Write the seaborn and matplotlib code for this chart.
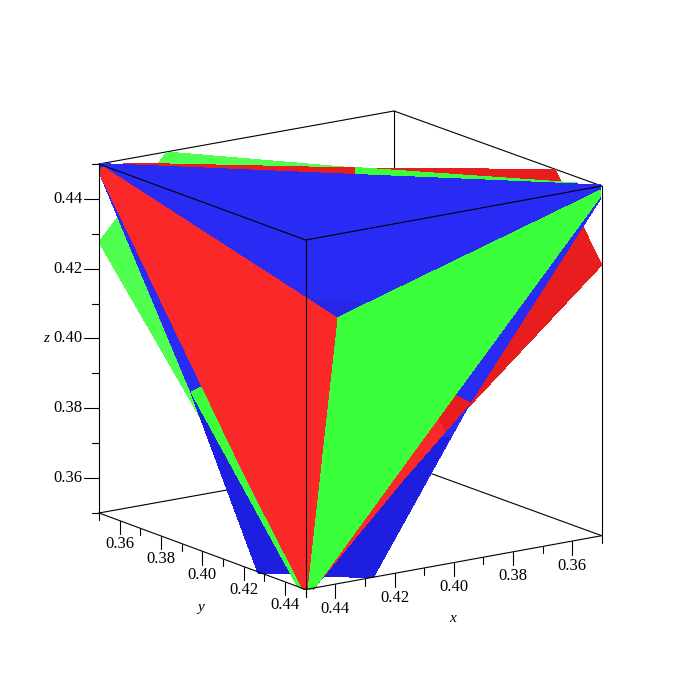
import numpy as np
import matplotlib
matplotlib.use("Agg")
import matplotlib.pyplot as plt
import seaborn as sns

# axis ranges and tick values
axis_range = [0.35, 0.45]
major_ticks = [0.36, 0.38, 0.40, 0.42, 0.44]
minor_ticks = [0.35, 0.37, 0.39, 0.41, 0.43, 0.45]

# box corners (pixels)
top_left = (99, 164)
top_back = (394, 111)
top_right = (601.7, 186)
top_front = (305.7, 240)
bot_left = (99, 513)
bot_back = (394, 460)
bot_right = (601.7, 535.7)
bot_front = (305.7, 589.5)

# faces, back to front (pixels)
green_back = [(99, 242), (167, 152), (355, 168), (577, 183), (313, 590), (298, 587)]
red_back = [(123, 163), (355, 168), (555, 169.5), (601.7, 265), (445, 432), (300, 300)]
green_sliver = [(355, 167.5), (577, 183), (577, 186), (355, 176)]
blue_main = [(99, 163.5), (601, 185), (601, 198), (470, 403), (373, 578), (325, 576),
             (305, 590), (292, 574), (258, 573), (190, 390), (99, 172)]
blue_low_left = [(190, 390), (258, 573), (292, 574), (305, 590), (215, 400)]
blue_low_right = [(450, 437), (373, 578), (325, 576), (305, 590), (420, 440)]
blue_shade = [(303, 298), (360, 303), (360, 307), (337, 318)]
green_strip = [(191, 392), (202, 387), (305, 590), (298, 587)]
red_dark = [(455, 395), (470, 403), (445, 432), (438, 418)]
red_strip = [(438, 418), (445, 432), (403, 480), (323, 577), (313, 590), (393, 480)]
green_front = [(337, 318), (601, 190), (600, 197), (455, 395), (393, 480), (316, 586), (307, 590)]
red_front = [(103, 167), (337, 318), (307, 590), (303, 589), (247, 480), (99, 172)]

faces = [
    (green_back, "#50ff50"),
    (red_back, "#e81e1e"),
    (green_sliver, "#3cff3c"),
    (blue_main, "#2a2af5"),
    (blue_low_left, "#1e1ee0"),
    (blue_low_right, "#1e1ee0"),
    (blue_shade, "#2626e6"),
    (green_strip, "#3cff3c"),
    (red_dark, "#e81e1e"),
    (red_strip, "#fa2828"),
    (green_front, "#3aff3a"),
    (red_front, "#fa2828"),
]


def edge(ax, a, b, lw=0.8, color="black", zorder=3):
    sns.lineplot(x=[a[0], b[0]], y=[a[1], b[1]], sort=False, estimator=None,
                 color=color, linewidth=lw, zorder=zorder, ax=ax)


def along(a, b, v):
    # position of value v on the box edge a-b, a being the low end of the range
    t = (v - axis_range[0]) / (axis_range[1] - axis_range[0])
    return (a[0] + t * (b[0] - a[0]), a[1] + t * (b[1] - a[1]))


sns.set_theme(style="white")
plt.rcParams["font.family"] = ["Liberation Serif", "DejaVu Serif"]

fig = plt.figure(figsize=(7, 7), dpi=100)
ax = fig.add_axes([0, 0, 1, 1])
ax.set_xlim(0, 700)
ax.set_ylim(700, 0)
ax.axis("off")

# edges hidden behind the surfaces
for a, b in [(top_left, top_back), (top_back, top_right), (top_back, bot_back),
             (bot_left, bot_back), (bot_back, bot_right)]:
    edge(ax, a, b, zorder=0.5)

for verts, col in faces:
    xs, ys = zip(*verts)
    ax.fill(xs, ys, color=col, linewidth=0, antialiased=False, zorder=1)

# edges in front
for a, b in [(top_left, top_front), (top_front, top_right), (top_front, bot_front),
             (top_left, bot_left), (top_right, bot_right), (bot_left, bot_front),
             (bot_front, bot_right)]:
    edge(ax, a, b)

# z axis
for v in major_ticks:
    p = along(bot_left, top_left, v)
    edge(ax, (84, p[1]), p)
    ax.text(83, p[1], f"{v:.2f}", ha="right", va="center", fontsize=12, color="black")
for v in minor_ticks:
    p = along(bot_left, top_left, v)
    edge(ax, (92, p[1]), p)

# y axis
for v in major_ticks:
    p = along(bot_left, bot_front, v)
    edge(ax, p, (p[0], p[1] + 13.5))
    ax.text(p[0], p[1] + 23.5, f"{v:.2f}", ha="center", va="center", fontsize=12, color="black")
for v in minor_ticks:
    p = along(bot_left, bot_front, v)
    edge(ax, p, (p[0], p[1] + 7))

# x axis
for v in major_ticks:
    p = along(bot_right, bot_front, v)
    edge(ax, p, (p[0], p[1] + 13.5))
    ax.text(p[0], p[1] + 24.5, f"{v:.2f}", ha="center", va="center", fontsize=12, color="black")
for v in minor_ticks:
    p = along(bot_right, bot_front, v)
    edge(ax, p, (p[0], p[1] + 7))

ax.text(46, 338, "z", style="italic", ha="center", va="center", fontsize=11, color="black")
ax.text(201, 608, "y", style="italic", ha="center", va="center", fontsize=11, color="black")
ax.text(453, 619, "x", style="italic", ha="center", va="center", fontsize=11, color="black")

fig.savefig("out.png", dpi=100)
